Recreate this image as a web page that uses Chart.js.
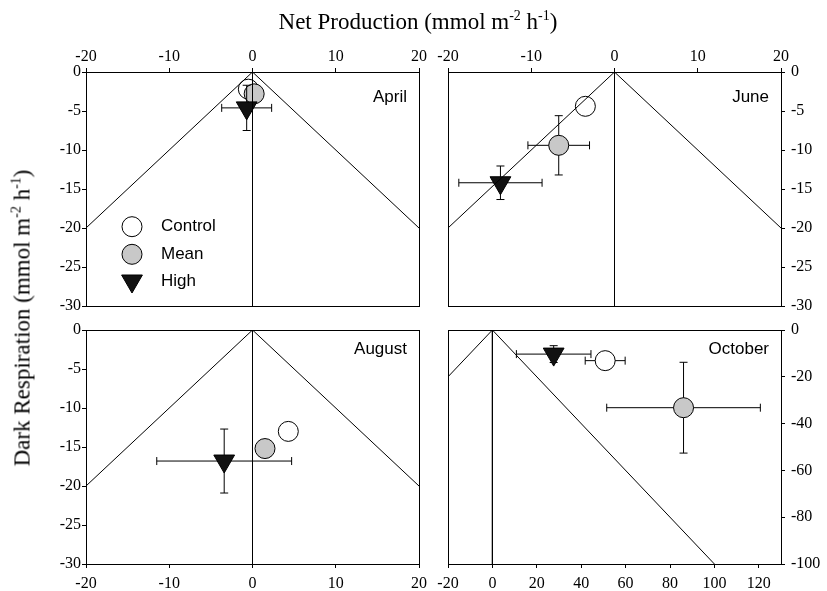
<!DOCTYPE html>
<html><head><meta charset="utf-8">
<script src="https://cdn.jsdelivr.net/npm/chart.js@4.4.1/dist/chart.umd.min.js"></script>
<style>
html,body{margin:0;padding:0;background:#fff;}
#wrap{position:relative;width:827px;height:591px;overflow:hidden;background:#fff;}
canvas.panel{position:absolute;left:0;top:0;}
.title{position:absolute;font-family:"Liberation Serif","Times New Roman",serif;font-size:23px;color:#000;white-space:nowrap;line-height:1;}
.title sup{font-size:14px;vertical-align:baseline;position:relative;top:-0.65em;}
#tx{left:418px;top:21px;transform:translate(-50%,-50%);}
#ty{left:22px;top:318px;transform:translate(-50%,-50%) rotate(-90deg);}
</style></head><body>
<div id="wrap">
<canvas id="c1" class="panel" width="827" height="591"></canvas>
<canvas id="c2" class="panel" width="827" height="591"></canvas>
<canvas id="c3" class="panel" width="827" height="591"></canvas>
<canvas id="c4" class="panel" width="827" height="591"></canvas>
<div class="title" id="tx">Net Production (mmol m<sup>-2</sup> h<sup>-1</sup>)</div>
<div class="title" id="ty">Dark Respiration (mmol m<sup>-2</sup> h<sup>-1</sup>)</div>
</div>
<script>
// ---- data ----
const seriesNames = ['Control', 'Mean', 'High'];
const months = ['April', 'June', 'August', 'October'];

const aprilX = [-0.5, 0.2, -0.7];
const aprilY = [-2.2, -2.8, -4.6];
const aprilXErr = [0, 0, 3.0];
const aprilYErr = [0, 0, 2.9];

const juneX = [-3.5, -6.7, -13.7];
const juneY = [-4.4, -9.4, -14.2];
const juneXErr = [0, 3.7, 5.0];
const juneYErr = [0, 3.8, 2.15];

const augustX = [4.3, 1.5, -3.4];
const augustY = [-13.0, -15.2, -16.8];
const augustXErr = [0, 0, 8.1];
const augustYErr = [0, 0, 4.1];

const octoberX = [50.8, 86.1, 27.6];
const octoberY = [-13.1, -33.2, -10.3];
const octoberXErr = [9.0, 34.6, 16.8];
const octoberYErr = [0, 19.4, 3.6];

// reference lines (y = -|x| and x = 0)
const vLineX = [-20, 0, 20];
const vLineY = [-20, 0, -20];
const octLineX = [-20, 0, 100];
const octLineY = [-20, 0, -100];
const zeroLineX = [0, 0];
const zeroLineY = [0, -30];
const octZeroLineY = [0, -100];

// tick labels
const xTicksSmall = [-20, -10, 0, 10, 20];
const yTicksSmall = [0, -5, -10, -15, -20, -25, -30];
const xTicksOct = [-20, 0, 20, 40, 60, 80, 100, 120];
const yTicksOct = [0, -20, -40, -60, -80, -100];

// ---- styles ----
const serif = '"Liberation Serif","Times New Roman",serif';
const sans = '"Liberation Sans",Arial,sans-serif';
const markerStyles = [
  {pointStyle:'circle', radius:10, rotation:0, backgroundColor:'#ffffff', borderColor:'#000', borderWidth:1},
  {pointStyle:'circle', radius:10, rotation:0, backgroundColor:'#c8c8c8', borderColor:'#000', borderWidth:1},
  {pointStyle:'triangle', radius:12, rotation:180, backgroundColor:'#111111', borderColor:'#000', borderWidth:1}
];

const errPlugin = {
  id: 'errbars',
  beforeDatasetDraw(chart, args) {
    const ds = chart.data.datasets[args.index];
    if (!ds.err) return;
    const xs = chart.scales.x, ys = chart.scales.y, ctx = chart.ctx;
    const cap = 4;
    ctx.save();
    ctx.strokeStyle = '#000';
    ctx.lineWidth = 1;
    ds.data.forEach((p, i) => {
      const ex = ds.err.x[i], ey = ds.err.y[i];
      const cx = xs.getPixelForValue(p.x), cy = ys.getPixelForValue(p.y);
      ctx.beginPath();
      if (ex > 0) {
        const l = xs.getPixelForValue(p.x - ex), r = xs.getPixelForValue(p.x + ex);
        ctx.moveTo(l, cy); ctx.lineTo(r, cy);
        ctx.moveTo(l, cy - cap); ctx.lineTo(l, cy + cap);
        ctx.moveTo(r, cy - cap); ctx.lineTo(r, cy + cap);
      }
      if (ey > 0) {
        const t = ys.getPixelForValue(p.y + ey), b = ys.getPixelForValue(p.y - ey);
        ctx.moveTo(cx, t); ctx.lineTo(cx, b);
        ctx.moveTo(cx - cap, t); ctx.lineTo(cx + cap, t);
        ctx.moveTo(cx - cap, b); ctx.lineTo(cx + cap, b);
      }
      ctx.stroke();
    });
    ctx.restore();
  }
};

const framePlugin = {
  id: 'frame',
  afterDraw(chart, args, opts) {
    const a = chart.chartArea, ctx = chart.ctx;
    ctx.save();
    ctx.strokeStyle = '#000';
    ctx.lineWidth = 1;
    const l = Math.round(a.left) + 0.5, t = Math.round(a.top) + 0.5;
    const r = Math.round(a.right) + 0.5, b = Math.round(a.bottom) + 0.5;
    ctx.strokeRect(l, t, r - l, b - t);
    // panel label
    ctx.fillStyle = '#000';
    ctx.font = '17px ' + sans;
    ctx.textAlign = 'right';
    ctx.textBaseline = 'middle';
    ctx.fillText(opts.label, a.right - 12, a.top + opts.labelDy);
    // legend
    if (opts.legend) {
      const lx = 132, ly = [226.7, 254.3, 281];
      seriesNames.forEach((name, i) => {
        const s = markerStyles[i];
        ctx.fillStyle = s.backgroundColor;
        ctx.strokeStyle = s.borderColor;
        ctx.lineWidth = 1;
        Chart.helpers.drawPoint(ctx, {pointStyle:s.pointStyle, rotation:s.rotation, radius:s.radius, borderWidth:1}, lx, ly[i]);
        ctx.fillStyle = '#000';
        ctx.textAlign = 'left';
        ctx.fillText(name, 161, ly[i]);
      });
    }
    ctx.restore();
  }
};

function makePanel(id, cfg) {
  const W = 827, H = 591;
  const xH = cfg.xPos === 'top' ? 30 : 24;
  const yW = cfg.yPos === 'left' ? 45 : 40;
  const padding = {
    left: cfg.area.l - (cfg.yPos === 'left' ? yW : 0),
    right: W - cfg.area.r - (cfg.yPos === 'right' ? yW : 0),
    top: cfg.area.t - (cfg.xPos === 'top' ? xH : 0),
    bottom: H - cfg.area.b - (cfg.xPos === 'bottom' ? xH : 0)
  };
  const datasets = [];
  cfg.lines.forEach(([lx, ly]) => {
    datasets.push({
      type: 'line',
      data: lx.map((v, i) => ({x: v, y: ly[i]})),
      showLine: true, borderColor: '#000', borderWidth: 1,
      pointRadius: 0, fill: false, tension: 0, order: 0
    });
  });
  seriesNames.forEach((name, i) => {
    const s = markerStyles[i];
    datasets.push({
      type: 'scatter',
      label: name,
      data: [{x: cfg.px[i], y: cfg.py[i]}],
      err: {x: [cfg.pxe[i]], y: [cfg.pye[i]]},
      pointStyle: s.pointStyle, pointRadius: s.radius, pointRotation: s.rotation,
      backgroundColor: s.backgroundColor, borderColor: s.borderColor, borderWidth: s.borderWidth,
      pointHoverRadius: s.radius,
      order: 3 - i,
      clip: false
    });
  });
  const tickFont = {family: serif, size: 16};
  new Chart(document.getElementById(id), {
    type: 'scatter',
    data: {datasets},
    options: {
      responsive: false, animation: false, devicePixelRatio: 1,
      layout: {padding},
      plugins: {legend: {display: false}, tooltip: {enabled: false}, frame: {label: cfg.label, labelDy: cfg.labelDy, legend: cfg.legend}},
      events: [],
      scales: {
        x: {
          type: 'linear', position: cfg.xPos, min: cfg.xMin, max: cfg.xMax,
          afterBuildTicks(s) { s.ticks = cfg.xTicks.map(v => ({value: v})); },
          ticks: {font: tickFont, color: '#000', padding: cfg.xPos === 'top' ? 2 : 6, maxRotation: 0, autoSkip: false, callback: v => String(v)},
          grid: {display: true, drawOnChartArea: false, drawTicks: true, tickLength: 4, color: '#000'},
          border: {display: true, color: '#000'},
          afterFit(s) { s.height = xH; }
        },
        y: {
          type: 'linear', position: cfg.yPos, min: cfg.yMin, max: cfg.yMax,
          afterBuildTicks(s) { s.ticks = cfg.yTicks.map(v => ({value: v})); },
          ticks: {font: tickFont, color: '#000', padding: cfg.yPos === 'left' ? 1 : 6, autoSkip: false, callback: v => String(v)},
          grid: {display: true, drawOnChartArea: false, drawTicks: true, tickLength: 4, color: '#000'},
          border: {display: true, color: '#000'},
          afterFit(s) { s.width = yW; }
        }
      }
    },
    plugins: [errPlugin, framePlugin]
  });
}

makePanel('c1', {
  area: {l: 86, t: 72, r: 419, b: 306}, xPos: 'top', yPos: 'left',
  xMin: -20, xMax: 20, yMin: -30, yMax: 0, xTicks: xTicksSmall, yTicks: yTicksSmall,
  px: aprilX, py: aprilY, pxe: aprilXErr, pye: aprilYErr,
  lines: [[vLineX, vLineY], [zeroLineX, zeroLineY]],
  label: months[0], labelDy: 25, legend: true
});
makePanel('c2', {
  area: {l: 448, t: 72, r: 781, b: 306}, xPos: 'top', yPos: 'right',
  xMin: -20, xMax: 20, yMin: -30, yMax: 0, xTicks: xTicksSmall, yTicks: yTicksSmall,
  px: juneX, py: juneY, pxe: juneXErr, pye: juneYErr,
  lines: [[vLineX, vLineY], [zeroLineX, zeroLineY]],
  label: months[1], labelDy: 25, legend: false
});
makePanel('c3', {
  area: {l: 86, t: 330, r: 419, b: 564}, xPos: 'bottom', yPos: 'left',
  xMin: -20, xMax: 20, yMin: -30, yMax: 0, xTicks: xTicksSmall, yTicks: yTicksSmall,
  px: augustX, py: augustY, pxe: augustXErr, pye: augustYErr,
  lines: [[vLineX, vLineY], [zeroLineX, zeroLineY]],
  label: months[2], labelDy: 19, legend: false
});
makePanel('c4', {
  area: {l: 448, t: 330, r: 781, b: 564}, xPos: 'bottom', yPos: 'right',
  xMin: -20, xMax: 130, yMin: -100, yMax: 0, xTicks: xTicksOct, yTicks: yTicksOct,
  px: octoberX, py: octoberY, pxe: octoberXErr, pye: octoberYErr,
  lines: [[octLineX, octLineY], [zeroLineX, octZeroLineY]],
  label: months[3], labelDy: 19, legend: false
});
</script>
</body></html>
